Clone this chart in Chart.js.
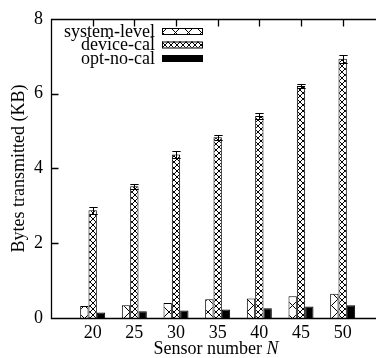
<!DOCTYPE html>
<html>
<head>
<meta charset="utf-8">
<script src="https://cdn.jsdelivr.net/npm/chart.js@4"></script>
<style>
  html, body { margin:0; padding:0; background:#fff; overflow:hidden; }
</style>
</head>
<body>
<canvas id="chart" width="376" height="358"></canvas>
<script>
// data
const sensors      = [20, 25, 30, 35, 40, 45, 50];
const systemLevel  = [0.32, 0.34, 0.40, 0.50, 0.52, 0.58, 0.65];
const deviceCal    = [2.88, 3.52, 4.37, 4.83, 5.40, 6.20, 6.93];
const deviceCalErr = [0.10, 0.06, 0.10, 0.07, 0.07, 0.06, 0.10];
const optNoCal     = [0.15, 0.18, 0.20, 0.23, 0.26, 0.31, 0.34];
const yTicks       = [0, 2, 4, 6, 8];
const seriesNames  = ["system-level", "device-cal", "opt-no-cal"];

const FONT = "Liberation Serif";
const FS = 18;

const ctx = document.getElementById("chart").getContext("2d");

// hatch patterns like gnuplot's fill patterns
function hatch(size, lw){
  const c = document.createElement("canvas");
  c.width = c.height = size;
  const g = c.getContext("2d");
  g.fillStyle = "#fff";
  g.fillRect(0, 0, size, size);
  g.strokeStyle = "#000";
  g.lineWidth = lw;
  g.beginPath();
  g.moveTo(-1, -1); g.lineTo(size + 1, size + 1);
  g.moveTo(size + 1, -1); g.lineTo(-1, size + 1);
  g.stroke();
  return ctx.createPattern(c, "repeat");
}
const fills = [hatch(13, 1), hatch(6, 1), "#000"];

const pts = arr => sensors.map((s, i) => ({ x: s, y: arr[i] }));

const frame = {
  id: "frame",
  afterDraw(chart){
    const { ctx: c, chartArea: a, scales: { x, y } } = chart;
    const L = Math.round(a.left) + 0.5, T = Math.round(a.top) + 0.5, B = Math.round(a.bottom) + 0.5;
    c.save();
    c.strokeStyle = "#000";
    c.lineWidth = 1.3;
    c.beginPath();
    // border: top, left, bottom (right side falls off the canvas)
    c.moveTo(a.right + 2, T); c.lineTo(L, T); c.lineTo(L, B); c.lineTo(a.right + 2, B);
    // mirrored x ticks on top
    sensors.forEach(s => {
      const px = Math.round(x.getPixelForValue(s)) + 0.5;
      c.moveTo(px, T); c.lineTo(px, T + 7);
    });
    // inward y ticks
    yTicks.forEach(v => {
      const py = Math.round(y.getPixelForValue(v)) + 0.5;
      c.moveTo(L, py); c.lineTo(L + 7, py);
    });
    c.stroke();

    // error bars on device-cal
    c.lineWidth = 1;
    const meta = chart.getDatasetMeta(1);
    c.beginPath();
    meta.data.forEach((bar, i) => {
      const bx = Math.round(bar.x) + 0.5;
      const hw = bar.width / 2;
      const yHi = Math.round(y.getPixelForValue(deviceCal[i] + deviceCalErr[i])) + 0.5;
      const yLo = Math.round(y.getPixelForValue(deviceCal[i] - deviceCalErr[i])) + 0.5;
      c.moveTo(bx, yHi); c.lineTo(bx, yLo);
      c.moveTo(bx - hw, yHi); c.lineTo(bx + hw, yHi);
      c.moveTo(bx - hw, yLo); c.lineTo(bx + hw, yLo);
    });
    c.stroke();

    // legend, text right aligned, swatch on the right
    c.font = FS + "px '" + FONT + "'";
    c.textAlign = "right";
    c.textBaseline = "middle";
    seriesNames.forEach((name, i) => {
      const cy = 31 + i * 13.5;
      c.fillStyle = "#000";
      c.fillText(name, 155, cy + 1);
      c.fillStyle = fills[i];
      c.fillRect(162, cy - 3, 41, 6);
      c.strokeRect(162.5, cy - 3 + 0.5, 40, 6);
    });

    // y axis title
    c.save();
    c.translate(19, (a.top + a.bottom) / 2);
    c.rotate(-Math.PI / 2);
    c.textAlign = "center";
    c.textBaseline = "middle";
    c.fillStyle = "#000";
    c.font = FS + "px '" + FONT + "'";
    c.fillText("Bytes transmitted (KB)", 0, 0);
    c.restore();

    // x axis title with italic N
    c.fillStyle = "#000";
    c.textAlign = "left";
    c.textBaseline = "alphabetic";
    const t1 = "Sensor number ";
    c.font = FS + "px '" + FONT + "'";
    const w1 = c.measureText(t1).width;
    c.font = "italic " + FS + "px '" + FONT + "'";
    const w2 = c.measureText("N").width;
    const sx = 216 - (w1 + w2) / 2;
    c.font = FS + "px '" + FONT + "'";
    c.fillText(t1, sx, 354);
    c.font = "italic " + FS + "px '" + FONT + "'";
    c.fillText("N", sx + w1, 354);
    c.restore();
  }
};

new Chart(ctx, {
  type: "bar",
  data: {
    datasets: [
      { label: seriesNames[0], data: pts(systemLevel), backgroundColor: fills[0], borderColor: "#000", borderWidth: 1 },
      { label: seriesNames[1], data: pts(deviceCal),   backgroundColor: fills[1], borderColor: "#000", borderWidth: 1 },
      { label: seriesNames[2], data: pts(optNoCal),    backgroundColor: fills[2], borderColor: "#000", borderWidth: 1 }
    ]
  },
  options: {
    responsive: false,
    animation: false,
    layout: { padding: { top: 15, left: 0, right: 0, bottom: 0 } },
    datasets: { bar: { categoryPercentage: 0.6, barPercentage: 1.0 } },
    plugins: { legend: { display: false }, tooltip: { enabled: false } },
    scales: {
      x: {
        type: "linear",
        min: 15, max: 54,
        offset: false,
        grid: { display: false, drawTicks: false },
        border: { display: false },
        afterBuildTicks: s => { s.ticks = sensors.map(v => ({ value: v })); },
        afterFit: s => { s.height = 40; },
        ticks: { color: "#000", padding: 4, maxRotation: 0, font: { family: FONT, size: FS } }
      },
      y: {
        min: 0, max: 8,
        grid: { display: false, drawTicks: false },
        border: { display: false },
        afterBuildTicks: s => { s.ticks = yTicks.map(v => ({ value: v })); },
        afterFit: s => { s.width = 51; },
        ticks: { color: "#000", padding: 8, font: { family: FONT, size: FS } }
      }
    }
  },
  plugins: [frame]
});
</script>
</body>
</html>
